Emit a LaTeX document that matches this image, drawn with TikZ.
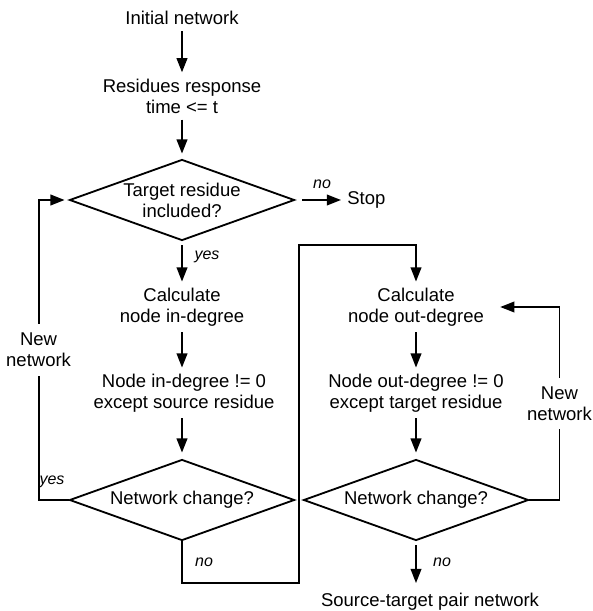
\documentclass[tikz,border=0pt]{standalone}
\usepackage{fontspec}
\setmainfont{Liberation Sans}
\usetikzlibrary{arrows.meta,shapes.geometric}

\begin{document}
\begin{tikzpicture}[x=0.6pt, y=-0.6pt,
    every node/.style={font=\fontsize{11.1}{12.6}\selectfont, align=center},
    txt/.style={inner sep=3.6pt},
    test/.style={shape=diamond, draw, line width=1.1pt, aspect=2.8, inner sep=0pt,
        minimum width=135pt, minimum height=48.6pt},
    flow/.style={line width=1.1pt, -{Triangle[length=8.5pt,width=6.4pt]}},
    tag/.style={font=\fontsize{9.6}{11}\selectfont\itshape, inner sep=1pt},
    gapnote/.style={fill=white, inner xsep=2pt, inner ysep=5.4pt}]
        \useasboundingbox (0,0) rectangle (593,611);

        % Left column
        \node[txt] (init) at (182,18) {Initial network};
        \node[txt] (resp) at (182,96) {Residues response\\time <= t};
        \node[test] (d1) at (182,200) {Target residue\\included?};
        \node[txt, anchor=west] (stop) at (341,200) {Stop};
        \node[txt] (calc1) at (182,307) {Calculate\\node in-degree};
        \node[txt] (rule1) at (184,393) {Node in-degree != 0\\except source residue};
        \node[test] (d2) at (182,500) {Network change?};

        % Right column
        \node[txt] (calc2) at (416,307) {Calculate\\node out-degree};
        \node[txt] (rule2) at (416,393) {Node out-degree != 0\\except target residue};
        \node[test] (d3) at (416,500) {Network change?};
        \node[txt] (pair) at (430,602) {Source-target pair network};

        % Jog between the two columns
        \coordinate (jogB) at (299,583);
        \coordinate (jogT) at (299,245);

        % Main flow
        \draw[flow] (init) -- (resp);
        \draw[flow, shorten >=3pt] (resp) -- (d1);
        \draw[flow, shorten <=4.2pt] (d1.east) -- (stop);
        \draw[flow, shorten <=2.4pt] (d1) -- (calc1);
        \draw[flow] (calc1) -- (rule1.north -| calc1.south);
        \draw[flow, shorten >=3.6pt] (rule1.south -| d2.north) -- (d2);
        \draw[flow] (d2.south) |- (jogB) -- (jogT) -| (calc2.north);
        \draw[flow] (calc2) -- (rule2);
        \draw[flow, shorten >=3.6pt] (rule2) -- (d3);
        \draw[flow, shorten <=2.4pt, shorten >=2.4pt] (d3.south) -- (d3.south |- pair.north);

        % Loops back
        \draw[flow, shorten >=2.4pt] (d2.west) -- ++(-30,0) |- (d1.west)
            node[gapnote, pos=0.25] (new1) {New\\network};
        \draw[flow, shorten >=6pt] (d3.east) -- ++(30,0) |- (calc2.east)
            node[gapnote, pos=0.25] (new2) {New\\network};

        % Branch labels
        \node[tag] (no1) at (322,184) {no};
        \node[tag] (yes1) at (207,257) {yes};
        \node[tag] (yes2) at (52,482) {yes};
        \node[tag] (no2) at (204,562) {no};
        \node[tag] (no3) at (442,562) {no};

\end{tikzpicture}
\end{document}
